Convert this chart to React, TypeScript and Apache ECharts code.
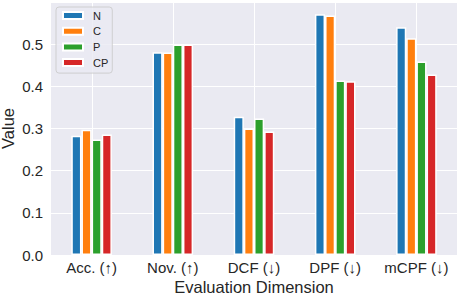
import React, { useEffect, useRef } from "react";
import * as echarts from "echarts";

const categories = ["Acc. (↑)", "Nov. (↑)", "DCF (↓)", "DPF (↓)", "mCPF (↓)"];
const seriesNames = ["N", "C", "P", "CP"];
const valuesN = [0.283, 0.481, 0.328, 0.571, 0.540];
const valuesC = [0.297, 0.480, 0.300, 0.568, 0.514];
const valuesP = [0.274, 0.499, 0.324, 0.414, 0.459];
const valuesCP = [0.286, 0.499, 0.293, 0.412, 0.428];
const colors = ["#1f77b4", "#ff7f0e", "#2ca02c", "#d62728"];

const allValues = [valuesN, valuesC, valuesP, valuesCP];
const FONT = "'Liberation Sans', Arial, sans-serif";
const TXT = "#262626";

export default function App() {
  const ref = useRef<HTMLDivElement>(null);
  useEffect(() => {
    if (!ref.current) return;
    const chart = echarts.init(ref.current, null, { renderer: "svg" });
    const barSeries = seriesNames.map((name, i) => ({
      name,
      type: "bar",
      z: 3,
      data: allValues[i],
      barGap: "0%",
      barCategoryGap: "50%",
      itemStyle: { color: colors[i], borderColor: "#ffffff", borderWidth: 1.5 },
    }));
    const gridSeries = {
      name: "grid-x",
      type: "custom",
      z: 1,
      silent: true,
      data: categories.map((c) => [c]),
      encode: { x: 0 },
      renderItem: (params: any, api: any) => {
        const cs = params.coordSys;
        const x = Math.round(api.coord([api.value(0), 0])[0]) + 0.5;
        return {
          type: "line",
          shape: { x1: x, y1: cs.y, x2: x, y2: cs.y + cs.height },
          style: { stroke: "#ffffff", lineWidth: 1 },
        };
      },
    };
    chart.setOption({
      animation: false,
      backgroundColor: "#ffffff",
      textStyle: { fontFamily: FONT, color: TXT },
      grid: {
        left: 51, right: 1, top: 2, bottom: 41,
        show: true, backgroundColor: "#eaeaf2", borderWidth: 0,
        containLabel: false, outerBoundsMode: "none",
      },
      legend: {
        data: seriesNames,
        orient: "vertical",
        left: 56,
        top: 7,
        padding: [3, 4, 5, 6],
        itemWidth: 20,
        itemHeight: 7,
        itemGap: 4.7,
        icon: "rect",
        backgroundColor: "rgba(234,234,242,0.8)",
        borderColor: "rgba(204,204,204,0.9)",
        borderWidth: 1,
        borderRadius: 3,
        textStyle: { fontFamily: FONT, fontSize: 11, color: TXT, lineHeight: 11, padding: [0, 0, 0, 5] },
      },
      xAxis: {
        type: "category",
        data: categories,
        name: "Evaluation Dimension",
        nameLocation: "middle",
        nameGap: 23,
        nameMoveOverlap: false,
        nameTextStyle: { fontFamily: FONT, fontSize: 16.5, color: TXT, verticalAlign: "top" },
        axisLine: { show: false },
        axisTick: { show: false },
        axisLabel: { fontFamily: FONT, fontSize: 15, color: TXT, margin: 5, interval: 0 },
        splitLine: { show: false },
      },
      yAxis: {
        type: "value",
        min: 0,
        max: 0.6,
        interval: 0.1,
        name: "Value",
        nameLocation: "middle",
        nameGap: 35,
        nameMoveOverlap: false,
        nameTextStyle: { fontFamily: FONT, fontSize: 16.5, color: TXT },
        axisLine: { show: false },
        axisTick: { show: false },
        axisLabel: {
          fontFamily: FONT,
          fontSize: 15,
          color: TXT,
          margin: 8,
          formatter: (v: number) => (v > 0.55 ? "" : v.toFixed(1)),
        },
        splitLine: { show: true, lineStyle: { color: "#ffffff", width: 1 } },
      },
      series: [gridSeries, ...barSeries],
    });
    return () => chart.dispose();
  }, []);
  return <div ref={ref} style={{ position: "fixed", left: 0, top: 0, width: 458, height: 296 }} />;
}
